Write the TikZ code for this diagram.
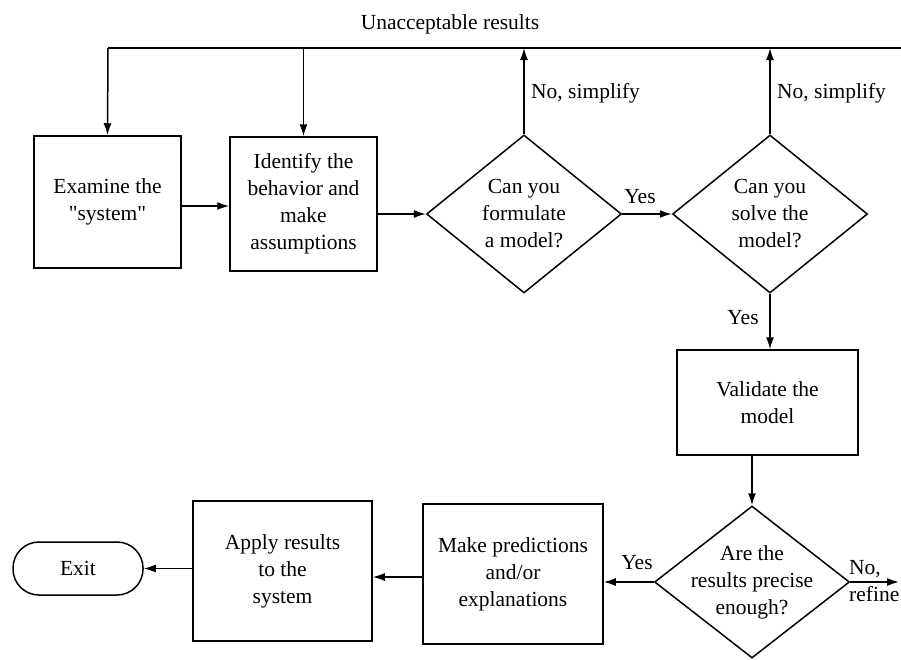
\documentclass[tikz,border=0pt]{standalone}
\usepackage{fontspec}
\setmainfont{Liberation Serif}
\newfontfamily\plainq{Liberation Serif}[Ligatures=TeXOff]
\usetikzlibrary{shapes.geometric,arrows.meta}
\begin{document}
\begin{tikzpicture}[x=1pt,y=-1pt,
  every node/.style={font=\fontsize{21.5}{27}\selectfont},
  box/.style={draw, line width=1.5pt, align=center, inner sep=0pt},
  dia/.style={draw, diamond, line width=1.5pt, inner sep=0pt, minimum width=195pt, minimum height=158pt},
  dtext/.style={align=center, inner sep=0pt},
  lbl/.style={inner sep=0pt},
  arr/.style={-{Latex[length=12pt,width=8pt]}, line width=1.5pt},
  ln/.style={line width=1.5pt}]
\useasboundingbox (0,0) rectangle (901,659);

% boxes
\node[box, minimum width=147pt, minimum height=132pt] (b1) at (107.5,202) {Examine the\\{\plainq"}system{\plainq"}};
\node[box, minimum width=147pt, minimum height=134pt] (b2) at (303.5,204) {Identify the\\behavior and\\make\\assumptions};
\node[dia] (d1) at (524,214) {};
\node[dtext] at (d1) {Can you\\formulate\\a model?};
\node[dia] (d2) at (770,214) {};
\node[dtext] at (d2) {Can you\\solve the\\model?};
\node[box, minimum width=181pt, minimum height=105pt] (val) at (767.5,402.5) {Validate the\\model};
\node[dia, minimum height=152pt] (d3) at (752,582) {};
\node[dtext] at (d3) {Are the\\results precise\\enough?};
\node[box, minimum width=180pt, minimum height=140pt] (b4) at (513,574) {Make predictions\\and/or\\explanations};
\node[box, minimum width=179pt, minimum height=140pt] (b5) at (282.5,571) {Apply results\\to the\\system};
\node[draw, line width=1.5pt, rounded corners=26pt, minimum width=130pt, minimum height=53pt, inner sep=0pt] (exit) at (78,568.5) {Exit};

% top feedback line
\coordinate (tl) at (108,48);
\coordinate (tr) at (901,48);
\draw[ln] (tl) -- (tr);
\node[lbl] (unacc) at (450,24) {Unacceptable results};
\draw[arr] (tl) -- (b1.north);
\draw[arr] (b2.north |- tl) -- (b2.north);
\draw[arr] (d1.north) -- (d1.north |- tl);
\draw[arr] (d2.north) -- (d2.north |- tl);
\node[lbl, anchor=west] (ns1) at (531,93) {No, simplify};
\node[lbl, anchor=west] (ns2) at (777,93) {No, simplify};

% main flow
\draw[arr] (b1.east |- 0,206) -- (b2.west |- 0,206);
\draw[arr] (b2.east |- d1.west) -- (d1.west);
\draw[arr] (d1.east) -- (d2.west);
\node[lbl] (y1) at (640,197) {Yes};
\draw[arr] (d2.south) -- (d2.south |- val.north);
\node[lbl] (y2) at (743,318) {Yes};
\draw[arr] (val.south -| d3.north) -- (d3.north);
\draw[arr] (d3.west) -- (d3.west -| b4.east);
\node[lbl] (y3) at (637,563) {Yes};
\coordinate (rf) at (899,582);
\draw[arr] (d3.east) -- (rf);
\node[lbl, anchor=west] (no3) at (849,569) {No,};
\node[lbl, anchor=west] (ref) at (849,594) {refine};
\draw[arr] (b4.west |- 0,577) -- (b5.east |- 0,577);
\draw[arr] (b5.west |- exit.east) -- (exit.east);
\end{tikzpicture}
\end{document}
